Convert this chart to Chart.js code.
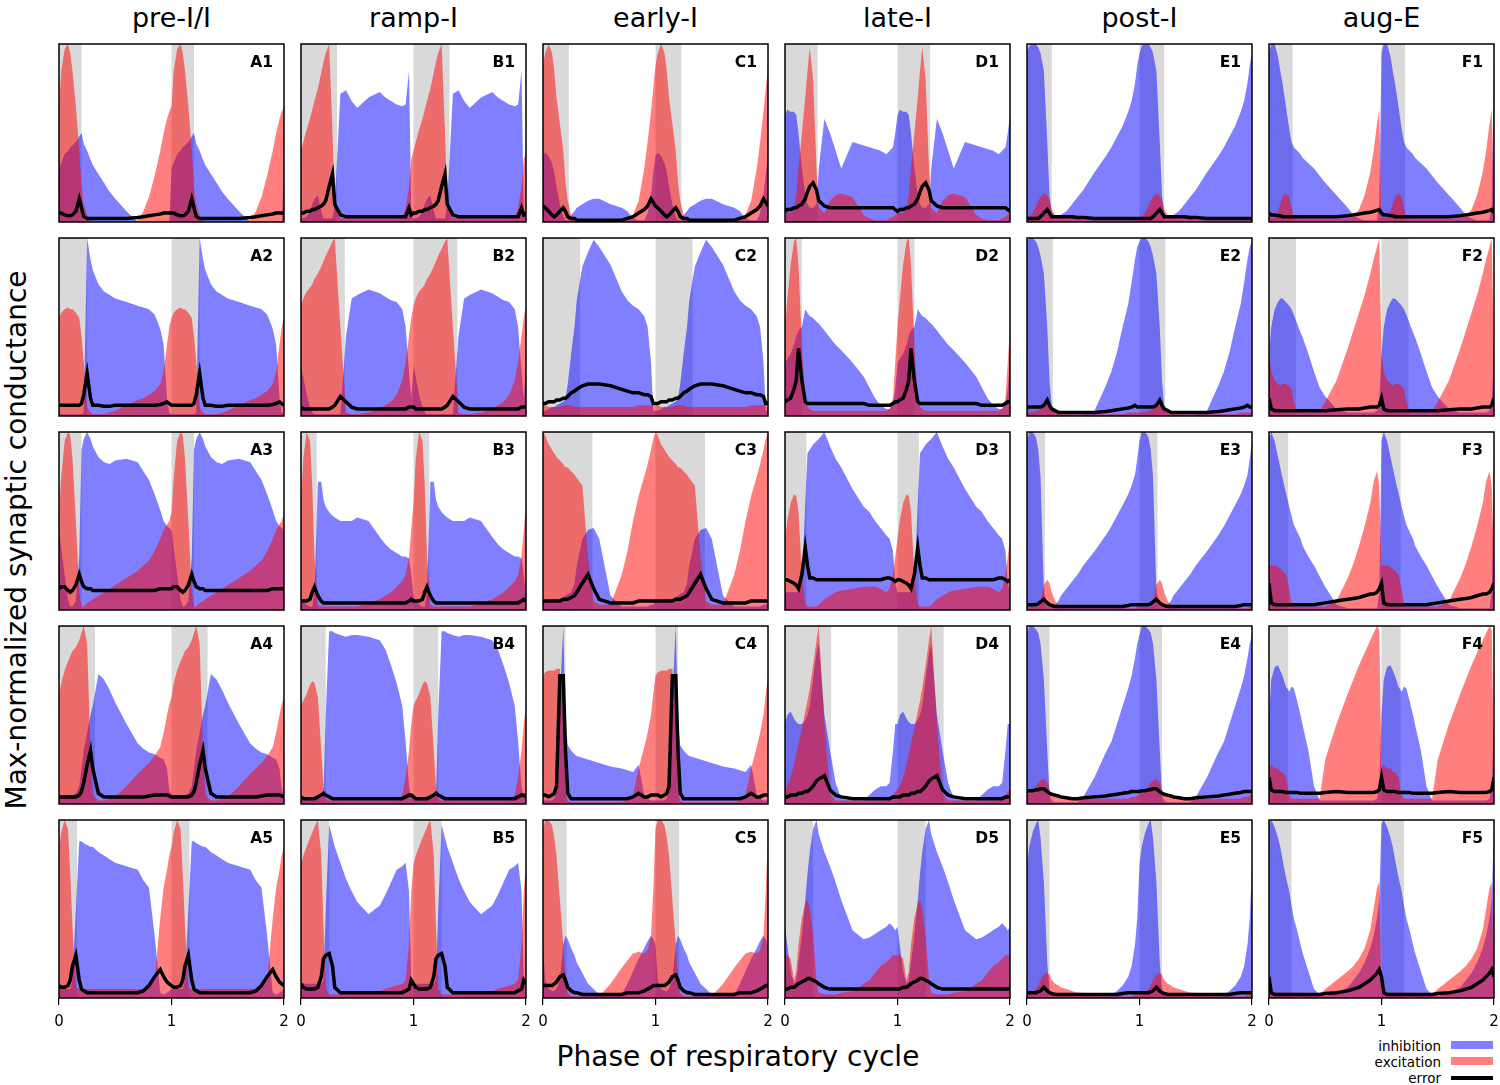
<!DOCTYPE html>
<html>
<head>
<meta charset="utf-8">
<script src="https://cdn.jsdelivr.net/npm/chart.js@4.4.1/dist/chart.umd.min.js"></script>
<style>
  body { margin: 0; background: #fff; }
  #fig { position: relative; width: 1500px; height: 1085px; overflow: hidden; font-family: "DejaVu Sans", sans-serif; color: #000; }
  #fig canvas { position: absolute; }
  .coltitle { position: absolute; top: 4px; width: 225px; text-align: center; font-size: 27px; line-height: 27px; }
  .plabel { position: absolute; font-size: 15.5px; font-weight: bold; line-height: 15.5px; }
  .xlabel { position: absolute; left: 0; width: 1476px; top: 1043px; text-align: center; font-size: 28px; line-height: 28px; }
  .ylabel { position: absolute; left: 17px; top: 540px; font-size: 28px; line-height: 28px; white-space: nowrap;
            transform: translate(-50%, -50%) rotate(-90deg); }
  .leg { position: absolute; right: 59px; font-size: 13.5px; line-height: 16px; text-align: right; }
  .sw { position: absolute; left: 1451px; width: 42px; }
</style>
</head>
<body>
<div id="fig">
  <div class="xlabel">Phase of respiratory cycle</div>
  <div class="ylabel">Max-normalized synaptic conductance</div>
  <div class="leg" style="top:1038px">inhibition</div>
  <div class="leg" style="top:1054px">excitation</div>
  <div class="leg" style="top:1070px">error</div>
  <div class="sw" style="top:1041px;height:8px;background:#8080ff"></div>
  <div class="sw" style="top:1057px;height:8px;background:#ff8080"></div>
  <div class="sw" style="top:1076px;height:4px;background:#000"></div>
</div>
<script>
// phase grid of one respiratory cycle; every panel shows two cycles (0..2)
const PHASE = [0, .02, .05, .08, .1, .12, .15, .18, .2, .22, .25, .28, .3, .35, .4, .45, .5, .6, .7, .75, .8, .85, .9, .93, .96, .98];
const XTICKS = [0, 1, 2];
const COLUMNS = ['pre-I/I', 'ramp-I', 'early-I', 'late-I', 'post-I', 'aug-E'];
const LETTERS = ['A', 'B', 'C', 'D', 'E', 'F'];

// end of the shaded (inspiratory) band per panel, rows 1..5
const INSP_A = [0.20, 0.25, 0.20, 0.32, 0.16];
const INSP_B = [0.32, 0.39, 0.14, 0.22, 0.25];
const INSP_C = [0.23, 0.33, 0.44, 0.20, 0.21];
const INSP_D = [0.29, 0.15, 0.19, 0.41, 0.25];
const INSP_E = [0.22, 0.23, 0.16, 0.20, 0.20];
const INSP_F = [0.21, 0.24, 0.17, 0.17, 0.20];

// pre-I/I
const INH_A1 = [.30,.33,.38,.40,.42, .43,.45,.48,.50,.44, .40,.35,.32,.27,.22, .17,.13,.06,0,0, 0,0,0,0,0, 0];
const EXC_A1 = [.65,.85,.97,1.0,.95, .85,.65,.40,.20,.10, .04,.01,0,0,0, 0,0,0,.01,.06, .14,.26,.40,.50,.58, .62];
const ERR_A1 = [.05,.05,.04,.035,.035, .04,.06,.13,.08,.03, .02,.02,.02,.02,.02, .02,.02,.02,.025,.03, .035,.04,.045,.05,.05, .05];
const INH_A2 = [.01,.01,.01,.01,.01, .01,.01,.01,.01,.02, 1.0,.88,.82,.74,.70, .68,.66,.64,.62,.61, .60,.57,.49,.40,.10, .02];
const EXC_A2 = [.55,.58,.60,.61,.60, .60,.58,.55,.45,.30, .05,.02,.01,.01,.01, .02,.03,.06,.09,.10, .12,.14,.18,.25,.40, .50];
const ERR_A2 = [.06,.06,.06,.06,.06, .06,.06,.06,.07,.12, .24,.10,.06,.06,.055, .055,.06,.06,.06,.06, .06,.06,.065,.07,.08, .07];
const INH_A3 = [.45,.35,.20,.06,.02, .02,.05,.30,.90,.96, 1.0,.96,.92,.86,.83, .82,.84,.85,.83,.78, .73,.65,.56,.50,.47, .46];
const EXC_A3 = [.55,.75,.95,1.0,.98, .85,.50,.10,.02,.02, .04,.05,.06,.08,.10, .12,.14,.18,.22,.25, .28,.33,.40,.45,.48, .50];
const ERR_A3 = [.12,.13,.13,.11,.10, .11,.14,.20,.16,.13, .12,.12,.11,.11,.11, .11,.11,.11,.11,.11, .11,.11,.12,.12,.12, .12];
const INH_A4 = [.05,.05,.05,.05,.05, .05,.06,.10,.20,.30, .40,.50,.55,.73,.70, .64,.57,.45,.34,.31, .29,.28,.26,.25,.20, .08];
const EXC_A4 = [.60,.68,.75,.80,.83, .86,.88,.92,.96,1.0, .90,.30,.05,.02,.02, .03,.04,.10,.17,.20, .23,.27,.32,.40,.50, .56];
const ERR_A4 = [.04,.04,.04,.04,.04, .04,.04,.05,.07,.12, .22,.30,.20,.06,.04, .04,.04,.04,.04,.04, .045,.05,.05,.05,.05, .045];
const INH_A5 = [.05,.05,.05,.05,.05, .10,.50,.88,.88,.87, .86,.85,.85,.82,.80, .78,.76,.74,.72,.66, .62,.35,.03,.02,.03, .04];
const EXC_A5 = [.85,.93,1.0,.95,.70, .40,.06,.05,.05,.05, .05,.05,.05,.05,.05, .05,.05,.05,.05,.05, .06,.10,.45,.62,.72, .80];
const ERR_A5 = [.07,.06,.06,.07,.10, .18,.24,.10,.05,.04, .03,.03,.03,.03,.03, .03,.03,.03,.03,.04, .07,.12,.16,.12,.09, .08];

// ramp-I
const INH_B1 = [.02,.02,.03,.06,.10, .13,.15,.06,.02,.02, .02,.02,.10,.72,.74, .68,.64,.70,.73,.70, .68,.66,.65,.66,.85, .05];
const EXC_B1 = [.40,.45,.52,.58,.63, .68,.75,.84,.90,.95, 1.0,.50,.10,.02,.02, .02,.02,.02,.02,.02, .02,.02,.03,.08,.20, .35];
const ERR_B1 = [.05,.05,.06,.06,.07, .07,.08,.09,.10,.12, .20,.27,.10,.04,.03, .03,.03,.03,.03,.03, .03,.03,.03,.03,.08, .04];
const INH_B2 = [.28,.22,.12,.05,.02, .01,.01,.01,.01,.01, .01,.01,.01,.01,.45, .66,.68,.71,.69,.67, .65,.64,.60,.50,.25, .10];
const EXC_B2 = [.62,.66,.70,.72,.74, .77,.80,.84,.87,.90, .94,.98,1.0,.50,.02, .01,.01,.02,.04,.06, .08,.12,.20,.30,.45, .55];
const ERR_B2 = [.05,.04,.04,.04,.04, .04,.04,.04,.04,.04, .04,.05,.06,.11,.08, .05,.04,.04,.04,.04, .04,.04,.04,.04,.05, .05];
const INH_B3 = [.08,.05,.03,.02,.02, .10,.72,.72,.62,.58, .55,.53,.52,.50,.50, .50,.52,.50,.41,.37, .34,.32,.30,.30,.29, .20];
const EXC_B3 = [.60,.85,1.0,.95,.70, .30,.03,.02,.02,.02, .02,.02,.02,.02,.02, .02,.02,.04,.06,.08, .10,.13,.16,.20,.30, .45];
const ERR_B3 = [.05,.05,.05,.06,.10, .13,.08,.05,.04,.04, .04,.04,.04,.04,.04, .04,.04,.04,.04,.04, .04,.04,.04,.04,.05, .06];
const INH_B4 = [.05,.04,.03,.03,.03, .03,.03,.05,.05,.50, .97,.97,.96,.95,.94, .95,.95,.94,.92,.87, .78,.68,.55,.35,.10, .04];
const EXC_B4 = [.55,.58,.62,.67,.69, .68,.60,.30,.10,.03, .02,.02,.02,.02,.02, .02,.02,.02,.02,.02, .02,.02,.05,.15,.30, .45];
const ERR_B4 = [.04,.03,.03,.03,.03, .03,.04,.05,.06,.05, .04,.03,.03,.03,.03, .03,.03,.03,.03,.03, .03,.03,.03,.04,.05, .05];
const INH_B5 = [.08,.08,.08,.08,.08, .08,.08,.08,.10,.50, .97,.90,.85,.76,.67, .60,.54,.47,.52,.58, .65,.72,.74,.76,.60, .10];
const EXC_B5 = [.75,.80,.85,.90,.93, .96,1.0,.80,.40,.05, .02,.02,.02,.02,.02, .03,.03,.03,.04,.05, .06,.07,.08,.10,.30, .60];
const ERR_B5 = [.08,.06,.05,.05,.05, .05,.06,.12,.22,.24, .25,.18,.06,.03,.03, .03,.03,.03,.03,.03, .03,.03,.03,.04,.05, .10];

// early-I
const INH_C1 = [.37,.39,.37,.33,.28, .20,.10,.03,.01,.01, .04,.06,.08,.10,.12, .13,.13,.10,.08,.06, .02,.01,.01,.05,.15, .28];
const EXC_C1 = [.88,.95,1.0,.95,.85, .70,.55,.40,.22,.12, .04,.01,0,0,0, 0,0,0,0,.01, .04,.12,.30,.45,.62, .75];
const ERR_C1 = [.09,.08,.06,.04,.03, .04,.06,.08,.06,.03, .02,.02,.01,.01,.01, .01,.01,.01,.01,.02, .03,.05,.07,.09,.13, .11];
const INH_C2 = [.03,.03,.04,.05,.05, .06,.07,.08,.10,.18, .35,.50,.65,.84,.92, .99,.95,.85,.70,.65, .62,.60,.56,.50,.30, .03];
const EXC_C2 = [.06,.06,.05,.05,.05, .05,.05,.06,.06,.06, .06,.05,.05,.05,.05, .05,.05,.05,.05,.05, .05,.06,.06,.06,.06, .06];
const ERR_C2 = [.07,.07,.08,.08,.08, .09,.09,.10,.10,.11, .13,.14,.15,.17,.18, .18,.18,.17,.15,.14, .13,.13,.12,.12,.11, .07];
const INH_C3 = [.05,.05,.05,.05,.05, .05,.06,.07,.08,.09, .10,.15,.25,.40,.45, .46,.40,.08,.02,.02, .02,.02,.02,.02,.03, .03];
const EXC_C3 = [1.0,.98,.93,.90,.88, .86,.84,.82,.80,.80, .78,.76,.74,.70,.30, .05,.03,.03,.20,.33, .50,.64,.75,.82,.90, .96];
const ERR_C3 = [.05,.05,.05,.05,.05, .05,.05,.06,.06,.06, .07,.08,.10,.15,.20, .12,.06,.04,.04,.04, .04,.05,.05,.05,.05, .05];
const INH_C4 = [.02,.02,.02,.02,.03, .10,.60,1.0,.45,.33, .30,.28,.27,.26,.25, .24,.23,.21,.20,.19, .18,.22,.05,.03,.02, .02];
const EXC_C4 = [.72,.74,.75,.75,.75, .76,.76,.50,.10,.02, .01,.01,.01,.01,.01, .01,.01,.01,.01,.02, .05,.20,.32,.40,.50, .62];
const ERR_C4 = [.05,.05,.04,.05,.06, .10,.72,.72,.30,.06, .03,.03,.03,.03,.03, .03,.03,.03,.03,.03, .04,.06,.04,.04,.05, .05];
const INH_C5 = [.30,.10,.05,.04,.04, .05,.10,.30,.35,.33, .28,.24,.20,.14,.08, .05,.02,.01,.02,.08, .15,.22,.28,.32,.35, .33];
const EXC_C5 = [.95,1.0,1.0,.97,.90, .80,.55,.30,.10,.03, .01,.01,.01,.01,.01, .01,.01,.08,.17,.21, .25,.26,.25,.27,.35, .60];
const ERR_C5 = [.07,.07,.07,.07,.08, .09,.12,.13,.10,.06, .04,.03,.03,.02,.02, .02,.02,.02,.02,.03, .03,.03,.04,.05,.06, .07];

// late-I
const INH_D1 = [.60,.63,.62,.62,.60, .50,.30,.15,.10,.08, .08,.10,.30,.58,.50, .40,.30,.45,.43,.42, .41,.40,.38,.40,.42, .50];
const EXC_D1 = [.05,.05,.05,.08,.15, .30,.50,.70,.85,.98, .80,.30,.08,.05,.12, .15,.16,.14,.04,.02, .01,.01,.01,.02,.03, .04];
const ERR_D1 = [.06,.07,.07,.08,.08, .09,.10,.13,.17,.20, .22,.18,.12,.09,.08, .08,.08,.08,.08,.08, .08,.08,.08,.08,.08, .07];
const INH_D2 = [.30,.32,.35,.40,.45, .48,.50,.60,.58,.56, .55,.53,.52,.48,.44, .40,.37,.30,.22,.16, .10,.06,.04,.04,.07, .15];
const EXC_D2 = [.50,.65,.85,.98,1.0, .85,.40,.10,.05,.04, .03,.03,.03,.03,.03, .03,.03,.03,.03,.03, .03,.03,.03,.04,.10, .30];
const ERR_D2 = [.08,.09,.10,.15,.20, .38,.20,.08,.07,.07, .07,.07,.07,.07,.07, .07,.07,.07,.07,.06, .06,.06,.06,.06,.07, .08];
const INH_D3 = [.10,.10,.10,.10,.10, .10,.15,.60,.88,.90, .93,.95,.96,1.0,.92, .85,.80,.68,.58,.55, .50,.46,.42,.40,.33, .15];
const EXC_D3 = [.40,.50,.60,.65,.64, .55,.20,.03,.02,.02, .02,.02,.03,.06,.08, .10,.11,.12,.13,.13, .13,.12,.10,.12,.20, .30];
const ERR_D3 = [.17,.17,.16,.15,.14, .12,.20,.35,.25,.18, .18,.17,.17,.17,.17, .17,.17,.17,.17,.17, .17,.17,.18,.18,.17, .16];
const INH_D4 = [.45,.50,.52,.48,.46, .45,.45,.47,.50,.55, .70,.85,.90,.50,.30, .12,.03,.02,.02,.05, .08,.10,.10,.12,.30, .45];
const EXC_D4 = [.08,.10,.15,.22,.28, .34,.42,.52,.58,.65, .78,.92,1.0,.45,.06, .02,.02,.02,.02,.02, .02,.02,.02,.03,.05, .07];
const ERR_D4 = [.04,.04,.05,.05,.05, .06,.06,.07,.07,.08, .10,.13,.14,.16,.08, .05,.04,.03,.03,.03, .03,.03,.03,.03,.04, .04];
const INH_D5 = [.40,.30,.15,.08,.10, .20,.35,.55,.70,.82, .95,1.0,.92,.82,.74, .65,.55,.38,.33,.34, .36,.38,.40,.42,.40, .38];
const EXC_D5 = [.24,.24,.22,.10,.15, .30,.45,.53,.55,.50, .35,.10,.03,.02,.02, .02,.03,.04,.08,.10, .14,.18,.20,.22,.24, .24];
const ERR_D5 = [.05,.05,.06,.06,.07, .08,.09,.10,.11,.11, .10,.09,.08,.06,.05, .05,.05,.05,.05,.05, .05,.05,.05,.05,.05, .05];

// post-I
const INH_E1 = [.95,.99,1.0,1.0,.98, .95,.85,.45,.15,.05, .03,.03,.04,.06,.10, .14,.18,.28,.37,.42, .48,.54,.62,.68,.78, .88];
const EXC_E1 = [.02,.03,.05,.09,.12, .14,.16,.15,.12,.07, .04,.03,.03,.02,.02, .02,.01,.01,.01,.01, .01,.01,.01,.01,.01, .01];
const ERR_E1 = [.02,.02,.02,.02,.02, .03,.05,.07,.05,.03, .03,.03,.03,.03,.03, .025,.025,.02,.02,.02, .02,.02,.02,.02,.02, .02];
const INH_E2 = [.98,1.0,1.0,.98,.95, .90,.80,.50,.20,.05, .02,.01,.01,.01,.01, .01,.01,.03,.17,.25, .36,.50,.63,.75,.88, .95];
const EXC_E2 = [.02,.02,.02,.03,.03, .04,.05,.06,.06,.05, .04,.03,.02,.01,.01, .01,.01,.01,.01,.01, .01,.01,.02,.02,.02, .02];
const ERR_E2 = [.05,.05,.05,.05,.05, .05,.06,.09,.06,.04, .03,.02,.02,.02,.02, .02,.02,.02,.025,.03, .035,.04,.045,.05,.06, .05];
const INH_E3 = [.95,1.0,1.0,.97,.90, .75,.10,.03,.02,.02, .03,.05,.08,.12,.16, .20,.25,.33,.42,.47, .53,.59,.65,.70,.76, .85];
const EXC_E3 = [.02,.02,.02,.02,.02, .05,.14,.17,.15,.10, .05,.03,.02,.01,.01, .01,.01,.01,.01,.01, .01,.01,.01,.01,.01, .02];
const ERR_E3 = [.03,.03,.03,.03,.035, .045,.06,.04,.03,.025, .02,.02,.02,.02,.02, .02,.02,.02,.02,.02, .02,.02,.025,.03,.03, .03];
const INH_E4 = [.95,1.0,1.0,.98,.96, .90,.70,.30,.05,.02, .01,.01,.01,.01,.01, .01,.04,.15,.29,.35, .45,.55,.65,.72,.82, .90];
const EXC_E4 = [.05,.06,.07,.10,.12, .13,.14,.12,.08,.06, .05,.04,.04,.03,.03, .03,.03,.03,.03,.03, .03,.03,.03,.04,.04, .05];
const ERR_E4 = [.07,.075,.075,.08,.08, .085,.085,.07,.06,.055, .05,.045,.04,.035,.03, .03,.035,.04,.045,.05, .055,.06,.065,.07,.07, .07];
const INH_E5 = [.75,.85,.93,.98,1.0, .90,.65,.20,.04,.02, .01,.01,.01,.01,.01, .01,.01,.01,.01,.02, .04,.07,.12,.18,.30, .45];
const EXC_E5 = [.02,.02,.03,.05,.07, .10,.13,.14,.13,.10, .08,.07,.06,.05,.04, .03,.03,.02,.01,.01, .01,.01,.01,.01,.02, .02];
const ERR_E5 = [.03,.03,.03,.03,.035, .04,.06,.04,.03,.025, .02,.02,.02,.02,.02, .02,.02,.02,.02,.02, .02,.025,.03,.03,.03, .03];

// aug-E
const INH_F1 = [.95,1.0,1.0,.93,.85, .78,.65,.52,.45,.42, .40,.38,.36,.33,.30, .26,.22,.15,.08,.04, .02,.01,.01,.01,.01, .10];
const EXC_F1 = [.03,.02,.03,.06,.10, .14,.16,.14,.08,.03, .02,.02,.02,.02,.02, .02,.02,.02,.02,.03, .07,.15,.28,.40,.55, .63];
const ERR_F1 = [.05,.04,.04,.035,.035, .03,.03,.03,.03,.03, .03,.03,.03,.03,.03, .03,.03,.03,.035,.04, .045,.05,.055,.06,.065, .07];
const INH_F2 = [.35,.50,.60,.64,.66, .66,.64,.62,.60,.57, .52,.47,.44,.35,.25, .16,.11,.04,.02,.02, .02,.02,.02,.02,.03, .10];
const EXC_F2 = [.35,.25,.20,.18,.17, .18,.18,.17,.15,.08, .03,.02,.02,.02,.02, .03,.08,.20,.38,.48, .58,.68,.80,.88,.95, 1.0];
const ERR_F2 = [.10,.04,.03,.03,.03, .03,.03,.03,.03,.03, .03,.03,.03,.03,.03, .03,.03,.035,.04,.04, .04,.045,.05,.05,.05, .06];
const INH_F3 = [.95,1.0,.95,.86,.80, .74,.66,.58,.53,.48, .44,.40,.36,.30,.25, .19,.13,.03,.01,.01, .01,.01,.01,.01,.01, .10];
const EXC_F3 = [.25,.25,.25,.24,.23, .22,.20,.12,.04,.02, .02,.02,.02,.02,.02, .02,.02,.05,.18,.26, .36,.47,.60,.72,.78, .70];
const ERR_F3 = [.15,.04,.03,.03,.03, .03,.03,.03,.03,.03, .03,.03,.03,.03,.03, .035,.04,.05,.06,.065, .07,.08,.09,.09,.10, .12];
const INH_F4 = [.50,.70,.77,.78,.75, .72,.66,.63,.66,.65, .58,.50,.44,.30,.10, .02,.02,.02,.02,.02, .02,.02,.02,.02,.03, .10];
const EXC_F4 = [.20,.22,.20,.20,.18, .18,.15,.05,.03,.03, .03,.03,.03,.03,.03, .03,.25,.45,.62,.70, .78,.85,.92,.96,1.0, .98];
const ERR_F4 = [.15,.08,.07,.07,.07, .07,.065,.065,.065,.065, .065,.06,.06,.06,.06, .06,.065,.07,.065,.065, .065,.065,.065,.065,.07, .08];
const INH_F5 = [.98,1.0,.96,.90,.85, .78,.68,.60,.52,.45, .38,.30,.25,.15,.05, .02,.01,.03,.06,.10, .14,.20,.28,.35,.45, .55];
const EXC_F5 = [.03,.03,.03,.03,.03, .03,.03,.03,.03,.03, .03,.03,.03,.02,.02, .02,.05,.10,.15,.18, .22,.28,.38,.50,.62, .65];
const ERR_F5 = [.12,.03,.02,.02,.02, .02,.02,.02,.02,.02, .02,.02,.02,.02,.02, .02,.025,.03,.04,.05, .06,.08,.10,.12,.14, .16];

const INSP = { A: INSP_A, B: INSP_B, C: INSP_C, D: INSP_D, E: INSP_E, F: INSP_F };
const SERIES = {
  A1: [INH_A1, EXC_A1, ERR_A1], A2: [INH_A2, EXC_A2, ERR_A2], A3: [INH_A3, EXC_A3, ERR_A3], A4: [INH_A4, EXC_A4, ERR_A4], A5: [INH_A5, EXC_A5, ERR_A5],
  B1: [INH_B1, EXC_B1, ERR_B1], B2: [INH_B2, EXC_B2, ERR_B2], B3: [INH_B3, EXC_B3, ERR_B3], B4: [INH_B4, EXC_B4, ERR_B4], B5: [INH_B5, EXC_B5, ERR_B5],
  C1: [INH_C1, EXC_C1, ERR_C1], C2: [INH_C2, EXC_C2, ERR_C2], C3: [INH_C3, EXC_C3, ERR_C3], C4: [INH_C4, EXC_C4, ERR_C4], C5: [INH_C5, EXC_C5, ERR_C5],
  D1: [INH_D1, EXC_D1, ERR_D1], D2: [INH_D2, EXC_D2, ERR_D2], D3: [INH_D3, EXC_D3, ERR_D3], D4: [INH_D4, EXC_D4, ERR_D4], D5: [INH_D5, EXC_D5, ERR_D5],
  E1: [INH_E1, EXC_E1, ERR_E1], E2: [INH_E2, EXC_E2, ERR_E2], E3: [INH_E3, EXC_E3, ERR_E3], E4: [INH_E4, EXC_E4, ERR_E4], E5: [INH_E5, EXC_E5, ERR_E5],
  F1: [INH_F1, EXC_F1, ERR_F1], F2: [INH_F2, EXC_F2, ERR_F2], F3: [INH_F3, EXC_F3, ERR_F3], F4: [INH_F4, EXC_F4, ERR_F4], F5: [INH_F5, EXC_F5, ERR_F5],
};

(function () {
  const fig = document.getElementById('fig');
  const BOX_W = 225, BOX_H = 178, PAD = 10, AXIS_H = 34;
  const colLeft = c => 59 + 242 * c;
  const rowTop = r => 44 + 194 * r;

  // same cycle shown twice, phase 0..2
  function twoCycles(vals) {
    const pts = [];
    for (let k = 0; k < 2; k++) {
      PHASE.forEach((p, i) => pts.push({ x: k + p, y: vals[i] }));
    }
    pts.push({ x: 2, y: vals[0] });
    return pts;
  }

  const bandPlugin = {
    id: 'inspBand',
    beforeDatasetsDraw(chart, args, opts) {
      const { ctx, chartArea: a, scales: { x } } = chart;
      ctx.save();
      ctx.fillStyle = '#d9d9d9';
      for (let k = 0; k < 2; k++) {
        const x0 = x.getPixelForValue(k), x1 = x.getPixelForValue(k + opts.end);
        ctx.fillRect(x0, a.top, x1 - x0, a.height);
      }
      ctx.restore();
    }
  };

  const framePlugin = {
    id: 'frame',
    afterDraw(chart) {
      const { ctx, chartArea: a } = chart;
      ctx.save();
      ctx.strokeStyle = '#000';
      ctx.lineWidth = 1.5;
      ctx.strokeRect(a.left, a.top, a.width, a.height);
      ctx.restore();
    }
  };

  function mkPanel(c, r) {
    const id = LETTERS[c] + (r + 1);
    const [inh, exc, err] = SERIES[id];
    const bottom = r === 4;
    const cv = document.createElement('canvas');
    const w = BOX_W + 2 * PAD, h = BOX_H + 2 * PAD + (bottom ? AXIS_H : 0);
    cv.width = w; cv.height = h;
    cv.style.width = w + 'px'; cv.style.height = h + 'px';
    cv.style.left = (colLeft(c) - PAD) + 'px';
    cv.style.top = (rowTop(r) - PAD) + 'px';
    fig.appendChild(cv);

    const xScale = {
      type: 'linear', min: XTICKS[0], max: XTICKS[XTICKS.length - 1],
      display: bottom,
      border: { display: false },
      grid: { display: true, drawOnChartArea: false, drawTicks: true, tickLength: 7, color: '#000', lineWidth: 1.2 },
      ticks: { stepSize: 1, autoSkip: false, maxRotation: 0, padding: 8, color: '#000', font: { family: 'DejaVu Sans', size: 15 } }
    };
    if (bottom) {
      // keep the plot box the same width as the rows above
      xScale.afterFit = scale => { scale.height = AXIS_H; scale.paddingLeft = 0; scale.paddingRight = 0; };
    }

    new Chart(cv, {
      type: 'line',
      data: {
        datasets: [
          { label: 'error', data: twoCycles(err), borderColor: '#000', borderWidth: 3.5, fill: false, pointRadius: 0, tension: 0 },
          { label: 'excitation', data: twoCycles(exc), borderWidth: 0, borderColor: 'rgba(0,0,0,0)', backgroundColor: 'rgba(255,0,0,0.5)', fill: 'origin', pointRadius: 0, tension: 0 },
          { label: 'inhibition', data: twoCycles(inh), borderWidth: 0, borderColor: 'rgba(0,0,0,0)', backgroundColor: 'rgba(0,0,255,0.5)', fill: 'origin', pointRadius: 0, tension: 0 },
        ]
      },
      options: {
        responsive: false,
        animation: false,
        events: [],
        layout: { padding: PAD },
        plugins: {
          legend: { display: false },
          tooltip: { enabled: false },
          inspBand: { end: INSP[LETTERS[c]][r] }
        },
        scales: {
          x: xScale,
          y: { min: 0, max: 1, display: false }
        }
      },
      plugins: [bandPlugin, framePlugin]
    });

    const lab = document.createElement('div');
    lab.className = 'plabel';
    lab.textContent = id;
    lab.style.right = (1500 - (colLeft(c) + BOX_W - 11)) + 'px';
    lab.style.top = (rowTop(r) + 11) + 'px';
    fig.appendChild(lab);
  }

  COLUMNS.forEach((name, c) => {
    const t = document.createElement('div');
    t.className = 'coltitle';
    t.textContent = name;
    t.style.left = colLeft(c) + 'px';
    fig.appendChild(t);
    for (let r = 0; r < 5; r++) mkPanel(c, r);
  });
})();
</script>
</body>
</html>
